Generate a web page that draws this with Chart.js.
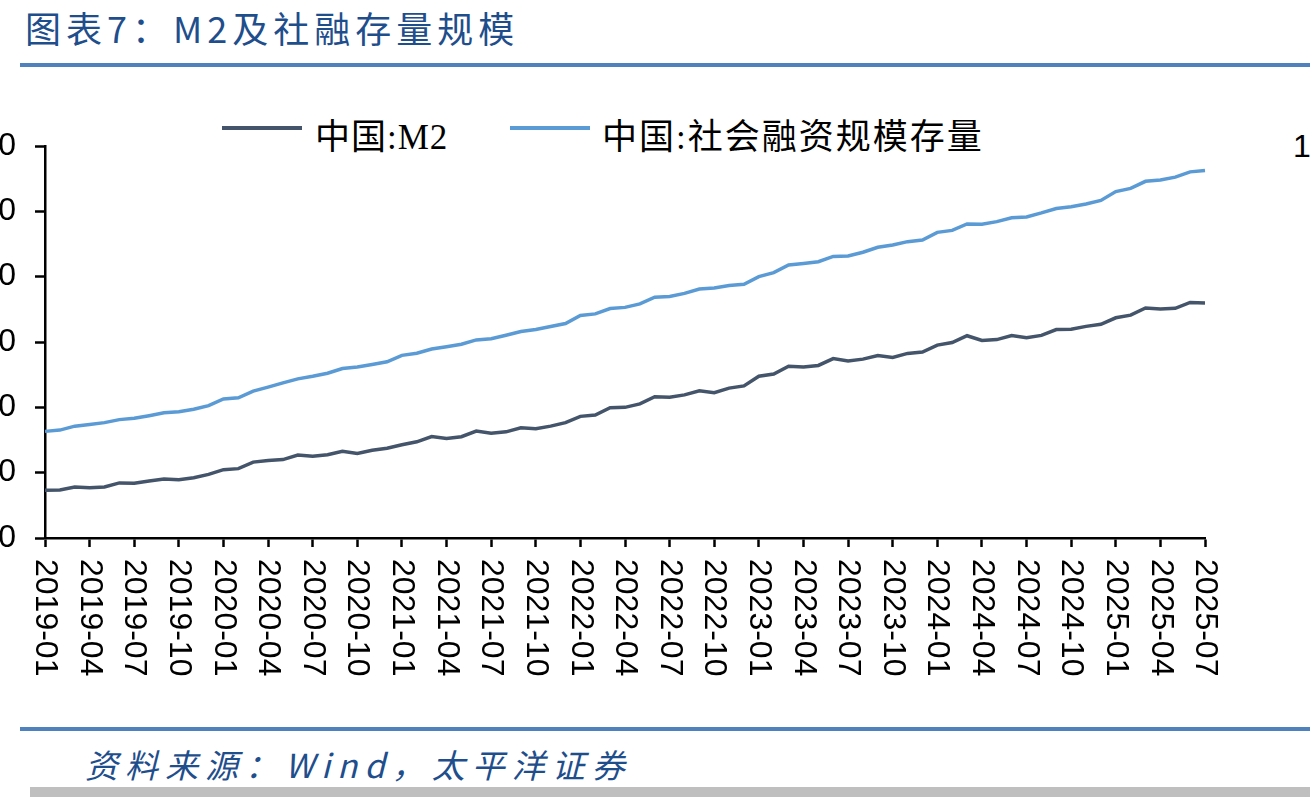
<!DOCTYPE html>
<html>
<head>
<meta charset="utf-8">
<script src="https://cdn.jsdelivr.net/npm/chart.js@4"></script>
<style>
  html, body { margin: 0; padding: 0; background: #fff; }
  body { width: 1310px; height: 802px; overflow: hidden; position: relative; }
  .title { position: absolute; left: 25px; top: 1px; font-family: "Noto Sans CJK SC"; font-size: 36px; color: #1f4e8c; letter-spacing: 5px; white-space: nowrap; }
  .rule { position: absolute; left: 20px; width: 1290px; height: 4px; background: #4f81bd; }
  .source { position: absolute; left: 85px; top: 740px; font-family: "Noto Sans CJK SC"; font-style: italic; font-size: 33px; color: #1f4e8c; letter-spacing: 7px; white-space: nowrap; }
  .greybar { position: absolute; left: 30px; top: 787px; width: 1280px; height: 10px; background: #bfbfbf; }
  .leg-line { position: absolute; height: 4px; width: 80px; top: 126px; }
  .leg-text { position: absolute; top: 108px; font-family: "Liberation Serif", "Noto Sans CJK SC"; font-size: 35px; color: #000; white-space: nowrap; }
  .right-lbl { position: absolute; left: 1293px; top: 128px; font-family: "Liberation Sans"; font-size: 32px; color: #000; }
  #chart { position: absolute; left: -115px; top: 106px; }
</style>
</head>
<body>
<div class="title">图表7：M2及社融存量规模</div>
<div class="rule" style="top:63px"></div>

<div class="leg-line" style="left:222px; background:#44546a"></div>
<div class="leg-text" style="left:315px; letter-spacing:1px">中国:M2</div>
<div class="leg-line" style="left:510px; background:#5b9bd5"></div>
<div class="leg-text" style="left:602px; letter-spacing:2px">中国:社会融资规模存量</div>
<div class="right-lbl">1</div>

<canvas id="chart" width="1335" height="592"></canvas>

<div class="rule" style="top:727px"></div>
<div class="source">资料来源：Wind，太平洋证券</div>
<div class="greybar"></div>

<script>
const months = [
  "2019-01","2019-02","2019-03","2019-04","2019-05","2019-06","2019-07","2019-08","2019-09","2019-10","2019-11","2019-12",
  "2020-01","2020-02","2020-03","2020-04","2020-05","2020-06","2020-07","2020-08","2020-09","2020-10","2020-11","2020-12",
  "2021-01","2021-02","2021-03","2021-04","2021-05","2021-06","2021-07","2021-08","2021-09","2021-10","2021-11","2021-12",
  "2022-01","2022-02","2022-03","2022-04","2022-05","2022-06","2022-07","2022-08","2022-09","2022-10","2022-11","2022-12",
  "2023-01","2023-02","2023-03","2023-04","2023-05","2023-06","2023-07","2023-08","2023-09","2023-10","2023-11","2023-12",
  "2024-01","2024-02","2024-03","2024-04","2024-05","2024-06","2024-07","2024-08","2024-09","2024-10","2024-11","2024-12",
  "2025-01","2025-02","2025-03","2025-04","2025-05","2025-06","2025-07"
];

// 亿元
const m2 = [
  1865900,1867400,1889400,1884700,1890200,1921400,1919400,1935500,1952300,1945600,1961400,1986500,
  2023100,2030800,2080900,2093500,2100200,2134900,2125500,2136800,2164100,2147100,2172000,2186800,
  2213000,2236000,2276500,2262100,2275500,2317800,2302200,2312300,2342800,2336200,2356000,2382900,
  2431000,2441500,2497700,2499700,2526500,2581500,2578100,2595100,2626600,2612100,2647000,2664300,
  2738100,2755200,2814600,2808500,2820500,2873000,2854200,2868900,2896700,2882300,2912500,2922700,
  2976200,2995600,3048000,3011900,3018500,3050200,3033100,3050500,3094800,3097100,3119600,3135300,
  3185200,3205200,3260600,3251700,3257800,3302900,3299400
];

const tsf = [
  2316000,2326000,2356000,2369000,2383000,2406000,2416000,2436000,2458000,2467000,2485000,2513100,
  2564000,2573000,2624000,2655000,2687000,2718000,2738000,2761000,2797000,2809000,2828000,2848300,
  2898000,2914000,2946000,2964000,2983000,3016000,3025000,3052000,3080000,3095000,3119000,3141300,
  3203000,3215000,3256000,3265000,3292000,3343000,3349000,3372000,3406000,3414000,3432000,3442100,
  3500000,3531000,3590000,3601000,3614000,3655000,3658000,3687000,3725000,3742000,3768000,3780900,
  3839000,3854000,3903000,3902000,3921000,3951000,3957000,3988000,4022000,4035000,4056000,4083400,
  4151000,4176000,4229600,4240000,4262000,4302000,4312600
];

const yTicks = { min: 1500000, max: 4500000, step: 500000 };

const rotatedXLabels = {
  id: "rotatedXLabels",
  afterDraw(chart) {
    const xs = chart.scales.x;
    const ctx = chart.ctx;
    ctx.save();
    ctx.font = '32px "Liberation Sans"';
    ctx.fillStyle = "#000";
    ctx.textAlign = "left";
    ctx.textBaseline = "middle";
    for (let i = 0; i < months.length; i += 3) {
      const x = xs.getPixelForTick(i);
      ctx.save();
      ctx.translate(x, xs.top + 21);
      ctx.rotate(Math.PI / 2);
      ctx.fillText(months[i], 0, 0);
      ctx.restore();
    }
    ctx.restore();
  }
};

function makeChart() {
  const ctx = document.getElementById("chart").getContext("2d");
  return new Chart(ctx, {
    type: "line",
    data: {
      labels: months,
      datasets: [
        { label: "中国:M2", data: m2, borderColor: "#44546a", backgroundColor: "#44546a", borderWidth: 3.5, pointRadius: 0, tension: 0 },
        { label: "中国:社会融资规模存量", data: tsf, borderColor: "#5b9bd5", backgroundColor: "#5b9bd5", borderWidth: 3.5, pointRadius: 0, tension: 0 }
      ]
    },
    options: {
      responsive: false,
      animation: false,
      devicePixelRatio: 1,
      layout: { padding: { top: 40, right: 15, bottom: 0, left: 0 } },
      plugins: { legend: { display: false }, tooltip: { enabled: false } },
      scales: {
        x: {
          offset: false,
          ticks: { display: false, autoSkip: false },
          grid: {
            drawOnChartArea: false,
            drawTicks: true,
            tickLength: 9,
            tickWidth: 2.5,
            tickColor: c => (c.index % 3 === 0 ? "#000" : "rgba(0,0,0,0)")
          },
          border: { color: "#000", width: 2.5 },
          afterFit: s => { s.height = 160; }
        },
        y: {
          min: yTicks.min,
          max: yTicks.max,
          ticks: {
            stepSize: yTicks.step,
            padding: 19,
            color: "#000",
            font: { family: "Liberation Sans", size: 32 },
            callback: v => String(v)
          },
          grid: { drawOnChartArea: false, drawTicks: true, tickLength: 10, tickWidth: 2.5, tickColor: "#000" },
          border: { color: "#000", width: 2.5 },
          afterFit: s => { s.width = 160; }
        }
      }
    },
    plugins: [rotatedXLabels]
  });
}

makeChart();
</script>
</body>
</html>
